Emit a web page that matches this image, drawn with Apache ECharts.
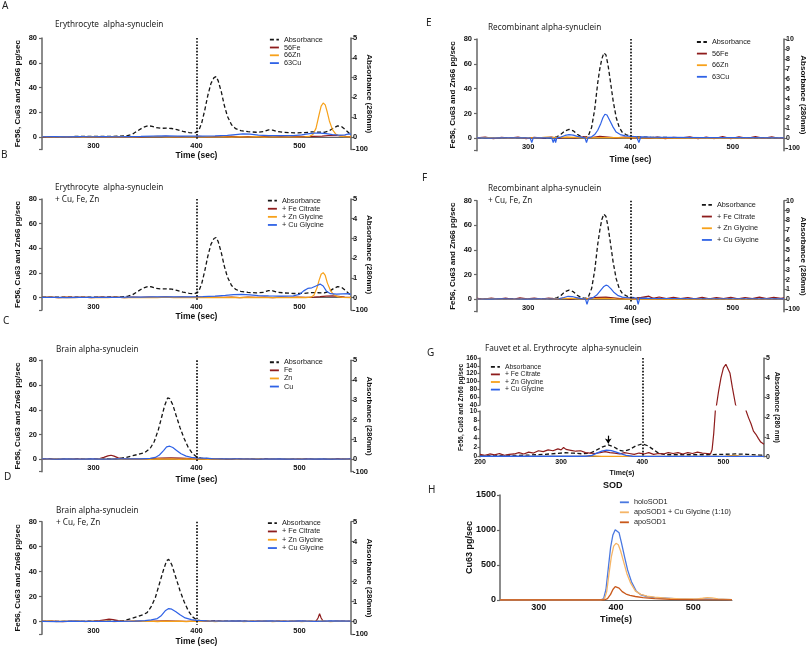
<!DOCTYPE html>
<html><head><meta charset="utf-8">
<script src="https://cdn.jsdelivr.net/npm/echarts@6/dist/echarts.min.js"></script>
<style>html,body{margin:0;padding:0;background:#fff}#c{width:810px;height:648px}</style>
</head><body><div id="c"></div><script>
// ---------------- DATA ----------------
const timeTicks = [300, 400, 500];
const timeTicksG = [200, 300, 400, 500];
const markerTime = 400;
const absMinLabel = '-100';

// Panel A / B : erythrocyte alpha-synuclein (absorbance, AU)
const absEry = [[250,0.02],[270,0.02],[290,0.03],[310,0.03],[325,0.04],[333,0.07],[338,0.15],[343,0.32],[348,0.48],[353,0.57],[357,0.54],[361,0.47],[366,0.44],[371,0.45],[376,0.43],[381,0.37],[387,0.28],[393,0.22],[398,0.2],[402,0.3],[405,0.7],[408,1.35],[411,2.1],[414,2.7],[417,3.0],[419,3.05],[421,2.85],[424,2.3],[427,1.6],[430,1.05],[434,0.62],[438,0.42],[443,0.32],[450,0.27],[458,0.24],[465,0.27],[470,0.36],[474,0.35],[478,0.28],[485,0.24],[495,0.21],[505,0.22],[512,0.26],[518,0.25],[524,0.24],[529,0.32],[533,0.46],[537,0.56],[541,0.52],[545,0.35],[548,0.2],[550,0.1]];
const feA = [[250,0.1],[258,0.4],[266,0.0],[274,0.3],[282,0.1],[290,0.4],[298,0.0],[306,0.3],[314,0.1],[322,0.4],[330,0.0],[338,0.3],[346,0.1],[354,0.4],[362,0.2],[370,0.5],[378,0.1],[386,0.4],[394,0.2],[402,0.5],[410,0.1],[418,0.4],[426,0.2],[434,0.5],[442,0.1],[450,0.4],[458,0.2],[466,0.5],[474,0.2],[482,0.4],[490,0.2],[498,0.5],[506,0.3],[514,0.6],[522,0.8],[528,1.2],[534,1.4],[540,1.0],[545,0.6],[550,0.3]];
const znA = [[250,0.3],[258,0.0],[266,0.4],[274,0.1],[282,0.3],[290,-0.1],[298,0.3],[306,0.0],[314,0.4],[322,0.1],[330,0.3],[338,0.0],[346,0.4],[354,0.2],[362,0.5],[370,0.1],[378,0.3],[386,0.0],[394,0.3],[402,0.1],[410,0.4],[418,0.0],[426,0.2],[434,-0.1],[442,0.2],[450,0.0],[458,0.3],[466,-0.1],[474,0.2],[482,0.0],[490,0.2],[498,0.0],[505,0.2],[510,0.6],[513,2],[516,7],[519,18],[521,25],[523,27.5],[525,26],[527,20],[529,13],[532,6],[535,2.5],[539,0.8],[544,0.2],[550,0.1]];
const cuA = [[250,0.2],[262,0.3],[274,0.1],[286,0.3],[298,0.2],[310,0.3],[322,0.2],[334,0.4],[346,0.5],[358,0.8],[370,0.9],[382,0.8],[394,0.7],[406,0.8],[418,1.0],[430,1.3],[438,2.0],[445,2.6],[452,2.4],[460,1.6],[470,1.2],[482,1.1],[494,1.2],[502,1.8],[508,2.6],[514,3.1],[520,3.2],[526,2.7],[532,1.9],[538,1.5],[544,1.7],[548,2.5],[550,2.3]];
const feB = [[250,0.2],[258,0.5],[266,0.1],[274,0.4],[282,0.2],[290,0.5],[298,0.1],[306,0.4],[314,0.2],[322,0.5],[330,0.1],[338,0.4],[346,0.2],[354,0.5],[362,0.3],[370,0.6],[378,0.2],[386,0.5],[394,0.3],[402,0.5],[410,0.2],[418,0.5],[426,0.2],[434,0.4],[442,0.1],[450,0.4],[458,0.2],[466,0.4],[474,0.1],[482,0.4],[490,0.2],[498,0.4],[506,0.2],[514,0.5],[520,0.8],[526,1.3],[532,1.5],[538,1.1],[544,0.5],[550,0.2]];
const znB = [[250,0.2],[258,0.4],[266,0.0],[274,0.3],[282,0.1],[290,0.4],[298,0.0],[306,0.3],[314,0.1],[322,0.4],[330,0.1],[338,0.3],[346,0.0],[354,0.3],[362,0.1],[370,0.4],[378,0.0],[386,0.3],[394,0.1],[402,0.3],[410,0.0],[418,0.2],[426,0.1],[434,0.3],[442,0.0],[450,0.2],[458,0.1],[466,0.3],[474,0.0],[482,0.2],[490,0.1],[498,0.2],[506,0.1],[511,0.4],[514,2],[517,8],[519,14],[521,19],[523,20.3],[525,18],[527,12],[530,6],[533,2.5],[537,0.8],[542,0.2],[550,0.1]];
const cuB = [[250,0.2],[262,0.3],[274,0.1],[286,0.3],[298,0.2],[310,0.3],[322,0.2],[334,0.4],[346,0.5],[358,0.6],[370,0.7],[382,0.6],[394,0.7],[406,0.8],[418,1.2],[428,1.8],[436,2.4],[444,2.7],[452,2.3],[460,1.7],[470,1.4],[482,1.3],[494,1.5],[500,2.6],[504,5.5],[508,7.5],[512,8],[516,9.5],[520,11],[523,9.5],[526,5.5],[530,3.2],[536,2.8],[542,3.0],[548,3.2],[550,2.8]];

// Panel C / D : brain alpha-synuclein
const absC = [[250,0.02],[280,0.02],[310,0.03],[325,0.04],[332,0.1],[338,0.18],[344,0.26],[350,0.35],[355,0.55],[359,0.9],[363,1.5],[366,2.1],[369,2.7],[372,3.1],[374,3.07],[377,2.75],[380,2.25],[384,1.6],[388,1.05],[392,0.6],[396,0.3],[400,0.13],[405,0.05],[420,0.03],[460,0.02],[500,0.02],[550,0.02]];
const feC = [[250,0.2],[260,0.4],[270,0.1],[280,0.4],[290,0.1],[300,0.4],[306,0.6],[310,1.6],[314,2.8],[317,3.3],[320,2.6],[324,1.2],[328,0.4],[340,0.3],[355,0.6],[365,1.0],[375,1.2],[385,1.0],[395,0.6],[410,0.3],[420,0.5],[430,0.2],[445,0.4],[460,0.2],[475,0.4],[490,0.2],[505,0.4],[520,0.2],[535,0.4],[550,0.3]];
const znC = [[250,0.4],[257,0.0],[264,0.5],[271,0.1],[278,0.4],[285,-0.1],[292,0.3],[299,0.0],[306,0.4],[313,0.1],[320,0.5],[327,0.0],[334,0.3],[341,0.1],[348,0.4],[355,0.0],[362,0.3],[369,0.1],[376,0.4],[383,0.0],[390,0.3],[397,0.1],[404,0.4],[411,0.0],[418,0.3],[425,0.1],[432,0.5],[439,0.0],[446,0.4],[453,0.1],[460,0.5],[467,0.0],[474,0.4],[481,0.1],[488,0.5],[495,0.1],[502,0.4],[509,0.0],[516,0.5],[523,0.1],[530,0.6],[537,0.0],[544,0.4],[550,0.2]];
const cuC = [[250,0.3],[262,0.1],[274,0.4],[286,0.2],[298,0.4],[310,0.2],[322,0.3],[334,0.3],[345,0.4],[355,0.8],[360,1.5],[364,3.5],[368,7],[371,10],[374,10.6],[377,9.5],[381,7],[385,4.5],[390,2.6],[395,1.6],[400,1.2],[408,0.9],[415,0.6],[425,0.3],[440,0.4],[460,0.2],[480,0.4],[500,0.2],[520,0.4],[540,0.2],[550,0.3]];
const absD = [[250,0.02],[290,0.02],[320,0.03],[330,0.06],[336,0.14],[342,0.24],[348,0.35],[352,0.45],[356,0.75],[360,1.2],[364,1.9],[368,2.6],[371,3.05],[373,3.12],[376,2.85],[380,2.2],[384,1.55],[388,1.0],[392,0.55],[396,0.25],[400,0.1],[405,0.04],[450,0.02],[550,0.02]];
const feD = [[250,0.2],[260,0.4],[270,0.1],[280,0.4],[290,0.2],[300,0.4],[306,0.8],[311,1.5],[315,2.0],[319,1.6],[324,0.8],[330,0.3],[340,0.4],[350,0.2],[360,0.5],[370,0.6],[380,0.5],[390,0.3],[400,0.4],[410,0.2],[420,0.4],[430,0.2],[440,0.4],[450,0.2],[460,0.4],[470,0.2],[480,0.4],[490,0.2],[500,0.4],[510,0.3],[516,0.4],[518,3],[519.5,6.5],[521,3],[523,0.4],[530,0.3],[540,0.4],[550,0.2]];
const znD = [[250,0.3],[257,0.6],[264,0.1],[271,0.5],[278,0.2],[285,0.6],[292,0.1],[299,0.5],[306,0.2],[313,0.6],[320,0.1],[327,0.5],[334,0.2],[341,0.6],[348,0.2],[355,0.5],[362,0.1],[369,0.4],[376,0.2],[383,0.5],[390,0.1],[397,0.4],[404,0.2],[411,0.6],[418,0.1],[425,0.5],[432,0.2],[439,0.6],[446,0.1],[453,0.5],[460,0.2],[467,0.6],[474,0.1],[481,0.5],[488,0.2],[495,0.6],[502,0.1],[509,0.5],[516,0.2],[523,0.6],[530,0.1],[537,0.5],[544,0.2],[550,0.4]];
const cuD = [[250,0.3],[265,0.1],[280,0.4],[295,0.2],[310,0.3],[325,0.2],[340,0.4],[350,0.8],[356,1.5],[362,2.5],[366,5],[370,9],[373,10.5],[376,10],[380,8],[384,5.5],[389,3],[395,1.6],[400,1.0],[410,0.6],[425,0.4],[440,0.6],[455,0.3],[470,0.6],[485,0.3],[500,0.6],[515,0.3],[530,0.6],[550,0.4]];

// Panel E / F : recombinant alpha-synuclein (absorbance 0-10)
const absE = [[250,0.05],[280,0.05],[310,0.05],[322,0.06],[328,0.15],[332,0.4],[336,0.75],[340,0.9],[344,0.75],[348,0.4],[352,0.15],[356,0.1],[359,0.3],[362,1.1],[365,2.9],[368,5.6],[370,7.0],[372,8.0],[374,8.6],[376,8.4],[378,7.4],[380,6.0],[383,3.8],[386,2.1],[389,1.1],[392,0.6],[396,0.35],[400,0.2],[410,0.12],[430,0.08],[480,0.06],[550,0.05]];
const feE = [[250,0.3],[258,1.0],[266,-0.3],[274,0.8],[282,0.1],[290,0.9],[298,-0.2],[306,0.7],[314,0.2],[322,1.0],[330,0.1],[338,0.8],[346,0.3],[354,1.1],[362,0.5],[370,1.5],[378,1.0],[386,0.4],[394,0.9],[402,0.2],[410,0.8],[418,0.1],[426,0.9],[434,-0.2],[442,0.8],[450,0.3],[458,1.2],[466,-0.4],[474,1.0],[482,-0.2],[490,1.3],[498,-0.3],[506,1.1],[514,-0.1],[522,1.4],[530,0.0],[538,1.2],[546,-0.2],[550,0.6]];
const znE = [[250,0.3],[265,0.5],[280,0.2],[295,0.4],[310,0.3],[318,0.9],[325,0.6],[335,0.9],[345,0.7],[355,0.4],[370,0.6],[385,0.5],[400,0.3],[420,0.4],[450,0.2],[480,0.3],[510,0.2],[550,0.3]];
const cuE = [[250,0.3],[262,0.2],[274,0.4],[286,0.3],[298,0.3],[302,0.2],[303.5,-3.5],[305,0.3],[315,0.4],[323,0.3],[324.5,-3.5],[325.8,0.3],[326.8,-3.5],[328,0.4],[332,1.0],[336,2.3],[340,3.0],[344,2.6],[348,1.5],[353,0.7],[355.5,0.4],[357,-3.5],[358.5,0.4],[362,1.2],[365,3.0],[368,6.5],[371,12],[373,16.5],[375,19.4],[377,18.8],[380,14],[383,9],[386,5],[390,3],[395,2],[400,1.6],[406,1.3],[408.2,-3.5],[410,1.2],[420,1],[440,0.8],[470,0.6],[500,0.5],[550,0.4]];
const absF = [[250,0.05],[280,0.05],[310,0.05],[322,0.06],[328,0.15],[332,0.4],[336,0.78],[340,0.94],[344,0.78],[348,0.42],[352,0.16],[356,0.1],[359,0.3],[362,1.1],[365,2.9],[368,5.6],[370,7.0],[372,8.1],[374,8.65],[376,8.4],[378,7.4],[380,6.0],[383,3.8],[386,2.1],[389,1.1],[392,0.6],[396,0.35],[400,0.2],[410,0.12],[430,0.08],[480,0.06],[550,0.05]];
const feF = [[250,0.8],[257,0.2],[264,1.1],[271,0.3],[278,1.0],[285,0.1],[292,1.2],[299,0.4],[306,1.0],[313,0.2],[320,1.1],[327,0.4],[334,0.9],[341,0.2],[348,1.0],[355,0.3],[362,1.2],[369,1.6],[376,1.8],[383,1.2],[390,0.6],[397,1.3],[404,0.5],[411,1.6],[418,2.6],[422,0.8],[428,1.9],[435,0.6],[442,1.7],[449,0.7],[456,1.5],[463,0.4],[470,1.6],[477,0.5],[484,1.4],[491,0.6],[498,1.7],[505,0.5],[512,1.5],[519,0.6],[526,1.8],[533,0.7],[540,1.6],[547,0.8],[550,1.2]];
const znF = [[250,0.2],[265,0.4],[280,0.1],[295,0.3],[310,0.2],[325,0.4],[335,0.8],[342,0.9],[350,0.4],[365,0.6],[375,0.8],[385,0.4],[400,0.2],[420,0.3],[450,0.1],[480,0.3],[510,0.1],[550,0.2]];
const cuF = [[250,0.3],[262,0.2],[274,0.4],[286,0.3],[298,0.2],[310,0.4],[322,0.3],[330,0.5],[335,1.5],[339,2.5],[343,2.3],[348,1.2],[352,0.6],[356,0.3],[357.5,-4],[359,0.3],[363,1.2],[367,3.5],[371,7.5],[374,10.5],[376,11.5],[378,11],[381,8.5],[384,5.5],[388,3],[392,1.8],[397,1.3],[402,1.2],[406,1.1],[407.5,-4],[409,1.0],[420,0.8],[440,0.7],[470,0.5],[510,0.5],[550,0.4]];

// Panel G : Fauvet et al.
const absG = [[200,0.05],[220,0.06],[240,0.06],[260,0.08],[280,0.12],[295,0.17],[305,0.2],[315,0.18],[325,0.15],[335,0.17],[342,0.3],[350,0.48],[358,0.6],[365,0.5],[372,0.32],[378,0.28],[385,0.38],[392,0.55],[400,0.65],[407,0.55],[414,0.35],[420,0.18],[428,0.1],[450,0.1],[480,0.1],[500,0.12],[515,0.14],[530,0.12],[545,0.08],[550,0.07]];
const feG = [[200,0.5],[206,0.3],[212,0.6],[218,0.4],[224,0.7],[230,0.3],[236,0.5],[242,0.6],[248,0.9],[254,0.6],[260,1.0],[266,0.8],[272,1.3],[278,1.1],[284,1.5],[290,1.3],[296,1.7],[300,1.5],[303,2.0],[306,1.6],[312,1.4],[318,1.2],[324,1.3],[330,0.9],[336,0.8],[342,0.7],[348,0.9],[354,1.1],[360,0.9],[366,0.8],[372,0.6],[378,0.9],[384,0.7],[390,0.5],[396,0.8],[402,0.6],[408,0.9],[414,0.5],[420,0.7],[426,0.6],[432,0.9],[438,0.7],[444,0.9],[450,0.6],[456,0.9],[462,0.7],[468,1.0],[474,0.8],[480,0.7],[484,0.6],[486,1.5],[488,5],[490,10],[491.5,40],[494,75],[497,110],[500,135],[503,144],[505,143],[508,122],[511,85],[515,40],[520,22],[524,14],[528,10],[531,8.5],[534,7.2],[537,5.6],[540,4.9],[543,4.0],[546,3.2],[548,2.8],[550,2.7]];
const znG = [[200,0.05],[320,0.05],[330,0.15],[340,0.2],[350,0.05],[500,0.05],[505,0.2],[515,0.3],[522,0.1],[550,0.05]];
const cuG = [[200,0.1],[250,0.1],[300,0.1],[330,0.1],[338,0.3],[344,0.8],[350,1.2],[356,1.45],[362,1.35],[368,1.0],[374,0.6],[380,0.3],[388,0.1],[400,0.05],[550,0.05]];
const arrowG = [[358,4.6],[358,2.9]];

// Panel H : SOD
const holoSOD = [[250,0],[380,0],[384,20],[387,150],[390,450],[393,750],[396,930],[399,1005],[401,1010],[404,960],[407,820],[411,620],[415,430],[420,260],[426,130],[432,75],[440,50],[450,35],[465,25],[480,15],[500,10],[515,15],[525,12],[550,5]];
const apoSODCu = [[250,0],[380,0],[385,15],[388,120],[391,380],[394,620],[397,770],[400,810],[403,790],[406,700],[410,540],[414,380],[419,240],[425,130],[432,80],[440,55],[450,40],[465,25],[485,15],[505,15],[512,25],[518,35],[524,30],[532,15],[550,5]];
const apoSOD = [[250,0],[385,0],[389,20],[393,80],[396,150],[399,190],[401,195],[404,170],[408,120],[413,85],[418,65],[425,50],[435,35],[450,20],[470,10],[500,5],[550,3]];

// ---------------- STYLE / BUILD ----------------
const FONT = 'Liberation Sans, Arial, sans-serif';
const TFONT = 'Noto Sans, sans-serif';
const C_ABS = '#151515', C_FE = '#8e1c1c', C_ZN = '#f7a11a', C_CU = '#2f62e6';
const AX = '#666';
const metalName = 'Fe56, Cu63 and Zn66 pg/sec';

const grids=[], xAxes=[], yAxes=[], series=[], legends=[], titles=[];
function lbl(size){return {fontFamily:FONT,fontWeight:'bold',fontSize:size,color:'#111'};}
function addTitle(text,left,top,size,weight,lh){
  titles.push({text,left,top,padding:0,textStyle:{fontFamily:TFONT,fontSize:size,fontWeight:weight||'normal',color:'#222',lineHeight:lh}});
}
function addLegend(names,left,top,pitch,size,iw){
  legends.push({data:names,orient:'vertical',left,top,padding:0,itemGap:0,itemWidth:iw,itemHeight:5,selectedMode:false,
    itemStyle:{opacity:0,borderWidth:0},lineStyle:{width:1.8},textStyle:{fontFamily:FONT,fontSize:size,color:'#222',lineHeight:pitch}});
}
function dottedMark(yTop,yBot){
  return {silent:true,symbol:['none','none'],label:{show:false},lineStyle:{color:'#000',width:1.6,type:[1.6,1.6]},
    data:[[{coord:[markerTime,yTop]},{coord:[markerTime,yBot]}]]};
}
function stdPanel(o){
  const gi=grids.length;
  grids.push({left:o.left,top:o.top,width:o.width,height:o.height});
  const xi=xAxes.length;
  xAxes.push({gridIndex:gi,type:'value',min:250,max:550,splitNumber:3,offset:-o.height/9,
    axisLine:{show:true,onZero:false,lineStyle:{color:AX,width:1}},axisTick:{show:false},splitLine:{show:false},
    axisLabel:Object.assign(lbl(7.5),{margin:5,formatter:v=>timeTicks.includes(v)?String(v):''}),
    name:'Time (sec)',nameLocation:'middle',nameGap:o.xNameGap,nameMoveOverlap:false,nameTextStyle:lbl(8.5)});
  const yl=yAxes.length;
  yAxes.push({gridIndex:gi,type:'value',position:'left',min:-10,max:80,splitNumber:5,
    axisLine:{show:true,lineStyle:{color:AX,width:1.5}},axisTick:{show:true,length:3,lineStyle:{color:AX,width:1.2}},
    splitLine:{show:false},axisLabel:Object.assign(lbl(7.5),{margin:5,formatter:v=>v<0?'':String(v)}),
    name:metalName,nameLocation:'middle',nameGap:20,nameMoveOverlap:false,nameTextStyle:lbl(8)});
  yAxes.push({gridIndex:gi,type:'value',position:'right',min:-o.absMax/8,max:o.absMax,splitNumber:o.absMax===10?10:5,
    axisLine:{show:true,lineStyle:{color:AX,width:1.5}},axisTick:{show:true,length:3,lineStyle:{color:AX,width:1.2}},
    splitLine:{show:false},axisLabel:Object.assign(lbl(o.absMax===10?7:7.5),{margin:2,formatter:v=>v<0?absMinLabel:String(v)}),
    name:'Absorbance (280nm)',nameLocation:'middle',nameRotate:-90,nameGap:o.rNameGap,nameMoveOverlap:false,nameTextStyle:lbl(8)});
  series.push({type:'line',name:'Absorbance',xAxisIndex:xi,yAxisIndex:yl+1,data:o.abs,symbol:'none',color:C_ABS,
    lineStyle:{color:C_ABS,width:1.3,type:[4,2.5]},z:2,markLine:dottedMark(o.absMax,-o.absMax*0.03)});
  o.metals.forEach(m=>series.push({type:'line',name:m.name,xAxisIndex:xi,yAxisIndex:yl,data:m.data,symbol:'none',
    color:m.color,lineStyle:{color:m.color,width:1.2},z:3}));
}

// Panel A
stdPanel({left:42,width:309,top:38,height:111.4,absMax:5,xNameGap:14.5,rNameGap:14.5,abs:absEry,
  metals:[{name:'56Fe',data:feA,color:C_FE},{name:'66Zn',data:znA,color:C_ZN},{name:'63Cu',data:cuA,color:C_CU}]});
addLegend(['Absorbance','56Fe','66Zn','63Cu'],269,35.8,7.8,7.3,9);
addTitle('Erythrocyte  alpha-synuclein',55,20,8.2,'normal',10);
addTitle('A',2,1,10,'normal',10);
// Panel B
stdPanel({left:42,width:309,top:199,height:111,absMax:5,xNameGap:14.5,rNameGap:14.5,abs:absEry,
  metals:[{name:'+ Fe Citrate',data:feB,color:C_FE},{name:'+ Zn Glycine',data:znB,color:C_ZN},{name:'+ Cu Glycine',data:cuB,color:C_CU}]});
addLegend(['Absorbance','+ Fe Citrate','+ Zn Glycine','+ Cu Glycine'],267,196.6,8.1,7.3,9);
addTitle('Erythrocyte  alpha-synuclein\n+ Cu, Fe, Zn',55,182.3,8.2,'normal',11.7);
addTitle('B',1,150,10,'normal',10);
// Panel C
stdPanel({left:42,width:309,top:360.3,height:111.4,absMax:5,xNameGap:15.4,rNameGap:14.5,abs:absC,
  metals:[{name:'Fe',data:feC,color:C_FE},{name:'Zn',data:znC,color:C_ZN},{name:'Cu',data:cuC,color:C_CU}]});
addLegend(['Absorbance','Fe','Zn','Cu'],269,358.2,8.1,7.3,9);
addTitle('Brain alpha-synuclein',56,345,8.2,'normal',10);
addTitle('C',3,316,10,'normal',10);
// Panel D
stdPanel({left:42,width:309,top:521.7,height:112.5,absMax:5,xNameGap:15,rNameGap:14.5,abs:absD,
  metals:[{name:'+ Fe Citrate',data:feD,color:C_FE},{name:'+ Zn Glycine',data:znD,color:C_ZN},{name:'+ Cu Glycine',data:cuD,color:C_CU}]});
addLegend(['Absorbance','+ Fe Citrate','+ Zn Glycine','+ Cu Glycine'],267,519,8.3,7.3,9);
addTitle('Brain alpha-synuclein\n+ Cu, Fe, Zn',56,505,8.2,'normal',11.7);
addTitle('D',4,472,10,'normal',10);
// Panel E
stdPanel({left:477,width:307,top:39,height:111.7,absMax:10,xNameGap:17,rNameGap:15,abs:absE,
  metals:[{name:'56Fe',data:feE,color:C_FE},{name:'66Zn',data:znE,color:C_ZN},{name:'63Cu',data:cuE,color:C_CU}]});
addLegend(['Absorbance','56Fe','66Zn','63Cu'],696,36.2,11.6,7.3,10);
addTitle('Recombinant alpha-synuclein',488,22.5,8.2,'normal',10);
addTitle('E',426,18,10,'normal',10);
// Panel F
stdPanel({left:477,width:307,top:200.7,height:111,absMax:10,xNameGap:17,rNameGap:15,abs:absF,
  metals:[{name:'+ Fe Citrate',data:feF,color:C_FE},{name:'+ Zn Glycine',data:znF,color:C_ZN},{name:'+ Cu Glycine',data:cuF,color:C_CU}]});
addLegend(['Absorbance','+ Fe Citrate','+ Zn Glycine','+ Cu Glycine'],701,199,11.7,7.3,10);
addTitle('Recombinant alpha-synuclein\n+ Cu, Fe, Zn',488,183,8.2,'normal',11.7);
addTitle('F',422,173.5,10,'normal',10);

// Panel G (broken left axis: two grids + full-height grid for absorbance)
(function(){
  const gU=grids.length; grids.push({left:480,width:284,top:358,height:47});
  const gL=grids.length; grids.push({left:480,width:284,top:411,height:45.7});
  const gF=grids.length; grids.push({left:480,width:284,top:358,height:98.7});
  const xU=xAxes.length; xAxes.push({gridIndex:gU,type:'value',min:200,max:550,show:false});
  const xL=xAxes.length; xAxes.push({gridIndex:gL,type:'value',min:200,max:550,splitNumber:3,
    axisLine:{show:true,onZero:false,lineStyle:{color:AX,width:1}},axisTick:{show:false},splitLine:{show:false},
    axisLabel:Object.assign(lbl(7),{margin:2,formatter:v=>timeTicksG.includes(v)?String(v):''}),
    name:'Time(s)',nameLocation:'middle',nameGap:13,nameMoveOverlap:false,nameTextStyle:lbl(7)});
  const xF=xAxes.length; xAxes.push({gridIndex:gF,type:'value',min:200,max:550,show:false});
  const ax={axisLine:{show:true,lineStyle:{color:AX,width:1.5}},axisTick:{show:true,length:2.5,lineStyle:{color:AX,width:1.2}},splitLine:{show:false}};
  const yU=yAxes.length; yAxes.push(Object.assign({gridIndex:gU,type:'value',position:'left',min:40,max:160,splitNumber:6,
    axisLabel:Object.assign(lbl(6.5),{margin:3})},ax));
  const yL=yAxes.length; yAxes.push(Object.assign({gridIndex:gL,type:'value',position:'left',min:0,max:10,splitNumber:5,
    axisLabel:Object.assign(lbl(6.5),{margin:3})},ax));
  const yR=yAxes.length; yAxes.push(Object.assign({gridIndex:gF,type:'value',position:'right',min:0,max:5,splitNumber:5,
    axisLabel:Object.assign(lbl(7),{margin:2}),name:'Absorbance (280 nm)',nameLocation:'middle',nameRotate:-90,nameGap:9,nameMoveOverlap:false,nameTextStyle:lbl(7)},ax));
  yAxes.push({gridIndex:gF,type:'value',position:'left',min:0,max:5,axisLine:{show:false},axisTick:{show:false},axisLabel:{show:false},splitLine:{show:false},
    name:metalName,nameLocation:'middle',nameGap:15,nameMoveOverlap:false,nameTextStyle:lbl(6.5)});
  series.push({type:'line',name:'Absorbance',xAxisIndex:xF,yAxisIndex:yR,data:absG,symbol:'none',color:C_ABS,
    lineStyle:{color:C_ABS,width:1.3,type:[4,2.5]},z:2,markLine:dottedMark(5,0)});
  series.push({type:'line',name:'+ Fe Citrate',xAxisIndex:xL,yAxisIndex:yL,data:feG,symbol:'none',color:C_FE,lineStyle:{color:C_FE,width:1.2},z:3});
  series.push({type:'line',name:'+ Fe Citrate',xAxisIndex:xU,yAxisIndex:yU,data:feG,symbol:'none',color:C_FE,lineStyle:{color:C_FE,width:1.2},z:3});
  series.push({type:'line',name:'+ Zn Glycine',xAxisIndex:xL,yAxisIndex:yL,data:znG,symbol:'none',color:C_ZN,lineStyle:{color:C_ZN,width:1.2},z:3});
  series.push({type:'line',name:'+ Cu Glycine',xAxisIndex:xL,yAxisIndex:yL,data:cuG,symbol:'none',color:C_CU,lineStyle:{color:C_CU,width:1.3},z:3,
    markLine:{silent:true,symbol:['none','arrow'],symbolSize:5,label:{show:false},lineStyle:{color:'#000',width:1.2,type:'solid'},
      data:[[{coord:arrowG[0]},{coord:arrowG[1]}]]}});
})();
addLegend(['Absorbance','+ Fe Citrate','+ Zn Glycine','+ Cu Glycine'],490,363,7.6,6.8,9);
addTitle('Fauvet et al. Erythrocyte  alpha-synuclein',485,344,8.2,'normal',10);
addTitle('G',427,348,10,'normal',10);

// Panel H
(function(){
  const g=grids.length; grids.push({left:500,width:232,top:495,height:105});
  const xi=xAxes.length; xAxes.push({gridIndex:g,type:'value',min:250,max:550,splitNumber:3,
    axisLine:{show:true,onZero:false,lineStyle:{color:AX,width:1}},axisTick:{show:false},splitLine:{show:false},
    axisLabel:Object.assign(lbl(9),{margin:3.5,formatter:v=>timeTicks.includes(v)?String(v):''}),
    name:'Time(s)',nameLocation:'middle',nameGap:15,nameMoveOverlap:false,nameTextStyle:lbl(9)});
  const yi=yAxes.length; yAxes.push({gridIndex:g,type:'value',position:'left',min:0,max:1500,splitNumber:3,
    axisLine:{show:true,lineStyle:{color:AX,width:1.5}},axisTick:{show:true,length:3,lineStyle:{color:AX,width:1.2}},splitLine:{show:false},
    axisLabel:Object.assign(lbl(9),{margin:4,formatter:v=>String(v)}),name:'Cu63 pg/sec',nameLocation:'middle',nameGap:26,nameMoveOverlap:false,nameTextStyle:lbl(9)});
  series.push({type:'line',name:'holoSOD1',xAxisIndex:xi,yAxisIndex:yi,data:holoSOD,symbol:'none',color:'#4a78e0',lineStyle:{color:'#4a78e0',width:1.3}});
  series.push({type:'line',name:'apoSOD1 + Cu Glycine (1:10)',xAxisIndex:xi,yAxisIndex:yi,data:apoSODCu,symbol:'none',color:'#f5b567',lineStyle:{color:'#f5b567',width:1.3}});
  series.push({type:'line',name:'apoSOD1',xAxisIndex:xi,yAxisIndex:yi,data:apoSOD,symbol:'none',color:'#c9581a',lineStyle:{color:'#c9581a',width:1.3}});
})();
addLegend(['holoSOD1','apoSOD1 + Cu Glycine (1:10)','apoSOD1'],619,497.3,10,7.3,9);
titles.push({text:'SOD',left:603,top:481,padding:0,textStyle:{fontFamily:FONT,fontSize:9,fontWeight:'bold',color:'#111',lineHeight:10}});
addTitle('H',428,485,10,'normal',10);

const chart = echarts.init(document.getElementById('c'));
chart.setOption({animation:false,backgroundColor:'#fff',title:titles,legend:legends,grid:grids,xAxis:xAxes,yAxis:yAxes,series:series});
</script></body></html>
